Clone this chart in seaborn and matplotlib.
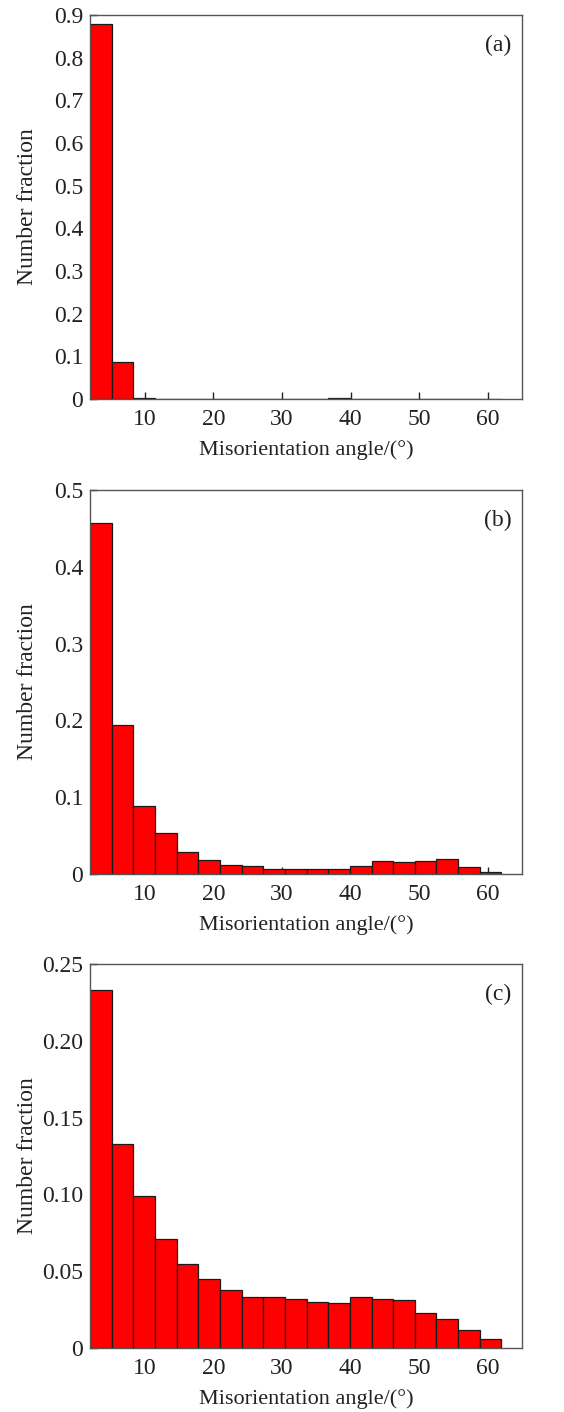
import numpy as np
import pandas as pd
import matplotlib.pyplot as plt
import seaborn as sns

# misorientation bins: 19 bins from 2 to 62 degrees
bin_edges = list(np.linspace(2, 62, 20))
bin_centers = [(a + b) / 2 for a, b in zip(bin_edges[:-1], bin_edges[1:])]

frac_a = [0.879, 0.086, 0.002, 0.0, 0.0, 0.0, 0.0, 0.0, 0.0, 0.0,
          0.0, 0.002, 0.001, 0.0, 0.0, 0.0, 0.0, 0.0, 0.0]
frac_b = [0.457, 0.194, 0.089, 0.053, 0.029, 0.018, 0.012, 0.011, 0.007, 0.006,
          0.007, 0.007, 0.011, 0.017, 0.015, 0.017, 0.019, 0.009, 0.003]
frac_c = [0.233, 0.133, 0.099, 0.071, 0.055, 0.045, 0.038, 0.033, 0.033, 0.032,
          0.030, 0.029, 0.033, 0.032, 0.031, 0.023, 0.019, 0.012, 0.006]

panels = [
    ("(a)", frac_a, [0, 0.1, 0.2, 0.3, 0.4, 0.5, 0.6, 0.7, 0.8, 0.9],
     ["0", "0.1", "0.2", "0.3", "0.4", "0.5", "0.6", "0.7", "0.8", "0.9"]),
    ("(b)", frac_b, [0, 0.1, 0.2, 0.3, 0.4, 0.5],
     ["0", "0.1", "0.2", "0.3", "0.4", "0.5"]),
    ("(c)", frac_c, [0, 0.05, 0.10, 0.15, 0.20, 0.25],
     ["0", "0.05", "0.10", "0.15", "0.20", "0.25"]),
]
x_ticks = [10, 20, 30, 40, 50, 60]

sns.set_style("ticks")
plt.rcParams["font.family"] = ["Liberation Serif", "DejaVu Serif"]

fig = plt.figure(figsize=(5.64, 14.12), dpi=100)
W, H = 564, 1412
tops = [15, 490, 964]
ax_h = 384

for (tag, frac, yt, ytl), top in zip(panels, tops):
    ax = fig.add_axes([90 / W, 1 - (top + ax_h) / H, 432 / W, ax_h / H])
    df = pd.DataFrame({"angle": bin_centers, "fraction": frac})
    sns.histplot(data=df, x="angle", weights="fraction", bins=bin_edges,
                 color="#ff0000", alpha=1, edgecolor="#1a1a1a", linewidth=0.9, ax=ax)
    ax.set_xlim(2, 65)
    ax.set_ylim(0, yt[-1])
    ax.set_xticks(x_ticks)
    ax.set_yticks(yt)
    ax.set_yticklabels(ytl)
    ax.tick_params(direction="in", length=5, width=1, labelsize=17, colors="#222222")
    ax.tick_params(axis="x", pad=7)
    ax.tick_params(axis="y", pad=5)
    for s in ax.spines.values():
        s.set_color("#555555")
        s.set_linewidth(1.0)
    ax.set_xlabel("Misorientation angle/(°)", fontsize=16, color="#222222")
    ax.set_ylabel("Number fraction", fontsize=17, color="#222222")
    ax.xaxis.set_label_coords(0.5, -0.107)
    ax.yaxis.set_label_coords(-0.12, 0.5)
    ax.text(0.945, 0.92, tag, transform=ax.transAxes, ha="center", va="center",
            fontsize=17, color="#222222")

fig.savefig("out.png", dpi=100)
